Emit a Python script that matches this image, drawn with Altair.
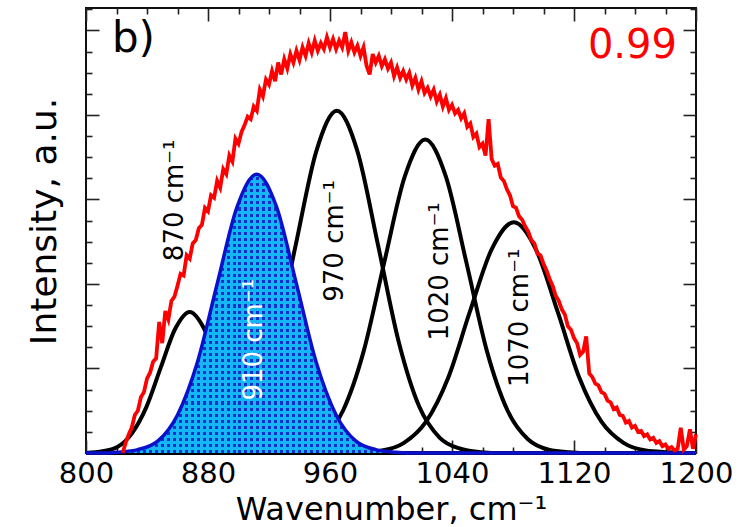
import altair as alt
import pandas as pd

# ---------------- data ----------------
# measured spectrum (red), wavenumber step 2 cm-1 from 824 to 1200
red_wn = list(range(824, 1201, 2))
red_int = [
    0.00, 0.12, 0.22, 0.30, 0.45, 0.50, 0.66, 0.72, 0.88, 0.95,
    1.08, 1.12, 1.55, 1.30, 1.68, 1.58, 1.80, 1.85, 1.98, 2.12,
    2.10, 2.34, 2.30, 2.48, 2.52, 2.66, 2.70, 2.90, 2.86, 3.05,
    3.02, 3.22, 3.14, 3.36, 3.30, 3.52, 3.45, 3.72, 3.66, 3.80,
    3.88, 3.98, 3.95, 4.10, 4.05, 4.30, 4.22, 4.42, 4.36, 4.52,
    4.40, 4.62, 4.48, 4.66, 4.55, 4.72, 4.62, 4.76, 4.65, 4.80,
    4.70, 4.85, 4.74, 4.88, 4.76, 4.85, 4.78, 4.92, 4.80, 4.90,
    4.78, 4.88, 4.80, 4.98, 4.76, 4.86, 4.74, 4.82, 4.70, 4.80,
    4.58, 4.48, 4.72, 4.62, 4.70, 4.58, 4.66, 4.55, 4.62, 4.46,
    4.56, 4.44, 4.52, 4.42, 4.50, 4.35, 4.44, 4.30, 4.40, 4.26,
    4.32, 4.22, 4.30, 4.16, 4.24, 4.10, 4.20, 4.06, 4.12, 4.02,
    4.06, 3.96, 4.02, 3.86, 3.90, 3.74, 3.78, 3.62, 3.66, 3.52,
    3.95, 3.48, 3.40, 3.42, 3.26, 3.22, 3.12, 3.05, 2.92, 2.90,
    2.80, 2.76, 2.68, 2.62, 2.52, 2.48, 2.36, 2.34, 2.24, 2.16,
    2.06, 1.98, 1.86, 1.80, 1.70, 1.64, 1.50, 1.46, 1.36, 1.30,
    1.16, 1.20, 1.38, 0.94, 0.90, 0.82, 0.80, 0.72, 0.70, 0.62,
    0.60, 0.52, 0.54, 0.45, 0.44, 0.36, 0.38, 0.30, 0.32, 0.25,
    0.26, 0.20, 0.22, 0.16, 0.18, 0.12, 0.14, 0.08, 0.10, 0.05,
    0.07, 0.03, 0.05, 0.30, 0.04, 0.08, 0.28, 0.05, 0.22,
]
assert len(red_wn) == len(red_int)

# fitted component bands
p870_wn = [800, 811, 820.5, 830, 839.5, 849, 858.5, 868, 877.5, 887, 896.5, 906, 915.5, 925, 934.5, 1200]
p870_v = [0, 0.02, 0.07, 0.23, 0.54, 1.01, 1.47, 1.67, 1.47, 1.01, 0.54, 0.23, 0.07, 0.02, 0, 0]

p910_wn = [800, 808, 821, 834, 847, 860, 873, 886, 899, 912, 925, 938, 951, 964, 977, 990, 1003, 1016, 1200]
p910_v = [0, 0, 0.01, 0.04, 0.14, 0.45, 1.07, 2.00, 2.91, 3.30, 2.91, 2.00, 1.07, 0.45, 0.14, 0.04, 0.01, 0, 0]

p970_wn = [800, 856.5, 870, 883.5, 897, 910.5, 924, 937.5, 951, 964.5, 978, 991.5, 1005, 1018.5, 1032, 1045.5, 1059, 1072.5, 1200]
p970_v = [0, 0, 0.01, 0.05, 0.18, 0.55, 1.32, 2.46, 3.57, 4.05, 3.57, 2.46, 1.32, 0.55, 0.18, 0.05, 0.01, 0, 0]

p1020_wn = [800, 914.5, 928, 941.5, 955, 968.5, 982, 995.5, 1009, 1022.5, 1036, 1049.5, 1063, 1076.5, 1090, 1103.5, 1117, 1130.5, 1200]
p1020_v = [0, 0, 0.01, 0.04, 0.16, 0.50, 1.20, 2.25, 3.27, 3.71, 3.27, 2.25, 1.20, 0.50, 0.16, 0.04, 0.01, 0, 0]

p1070_wn = [800, 965.5, 979.5, 994, 1008.5, 1023, 1037.5, 1051.5, 1066, 1080.5, 1095, 1109.5, 1123.5, 1138, 1152.5, 1167, 1181.5, 1195.5, 1200]
p1070_v = [0, 0, 0.01, 0.03, 0.12, 0.37, 0.89, 1.66, 2.41, 2.73, 2.41, 1.66, 0.89, 0.37, 0.12, 0.03, 0.01, 0, 0]

# band labels
label_text = ["870 cm⁻¹", "910 cm⁻¹", "970 cm⁻¹", "1020 cm⁻¹", "1070 cm⁻¹"]
label_wn = [858.4, 910.2, 963.6, 1032.0, 1084.6]
label_y = [2.99, 1.34, 2.51, 2.15, 1.60]
label_color = ["black", "white", "black", "black", "black"]

# axis ticks
x_major = [800, 880, 960, 1040, 1120, 1200]
x_minor = [820, 840, 860, 900, 920, 940, 980, 1000, 1020, 1060, 1080, 1100, 1140, 1160, 1180]
y_major = [0, 1, 2, 3, 4, 5]
y_minor = [0.25, 0.5, 0.75, 1.25, 1.5, 1.75, 2.25, 2.5, 2.75, 3.25, 3.5, 3.75, 4.25, 4.5, 4.75, 5.25]

# ---------------- tables ----------------
df_red = pd.DataFrame({"wn": red_wn, "v": red_int})
comp_frames = []
for name, w, v in [("870", p870_wn, p870_v), ("970", p970_wn, p970_v),
                   ("1020", p1020_wn, p1020_v), ("1070", p1070_wn, p1070_v)]:
    comp_frames.append(pd.DataFrame({"wn": w, "v": v, "peak": name}))
df_black = pd.concat(comp_frames, ignore_index=True)
df_blue = pd.DataFrame({"wn": p910_wn, "v": p910_v})
df_lab = pd.DataFrame({"wn": label_wn, "v": label_y, "t": label_text, "c": label_color})
df_b = pd.DataFrame({"wn": [817], "v": [4.75], "t": ["b)"]})
df_r2 = pd.DataFrame({"wn": [1187.5], "v": [4.67], "t": ["0.99"]})

W, H = 610, 445
FONT = "DejaVu Sans"
XS = alt.Scale(domain=[800, 1200], nice=False, zero=False)
YS = alt.Scale(domain=[0, 5.266], nice=False, zero=False)

CYAN = "#14b6f4"
DOT = "#1432c8"
CLEAR = "rgba(20,182,244,0)"


def stripes(n, horizontal):
    stops = []
    p = 1.0 / n
    for i in range(n):
        a = round(i * p, 5)
        m = round(i * p + p * 0.5, 5)
        b = round(min((i + 1) * p, 1.0), 5)
        stops += [alt.GradientStop(color=CYAN, offset=a),
                  alt.GradientStop(color=CYAN, offset=m),
                  alt.GradientStop(color=CLEAR, offset=m),
                  alt.GradientStop(color=CLEAR, offset=b)]
    if horizontal:
        return alt.LinearGradient(gradient="linear", stops=stops, x1=0, y1=0, x2=1, y2=0)
    return alt.LinearGradient(gradient="linear", stops=stops, x1=0, y1=0, x2=0, y2=1)


def tick_axis(orient, offset, values, size):
    return alt.Axis(orient=orient, offset=offset, values=values, tickSize=size,
                    tickWidth=1.6, tickColor="#222222", labels=False, domain=False,
                    grid=False)


x_label_axis = alt.Axis(orient="bottom", values=x_major, ticks=False, tickSize=0,
                        domain=False, grid=False, labelFontSize=29, labelFont=FONT,
                        labelColor="black", labelPadding=29, labelBaseline="alphabetic",
                        labelFlush=False, labelOverlap=False, format="d",
                        titleFontSize=32, titleFont=FONT, titleFontWeight="normal",
                        titleColor="black", titleBaseline="alphabetic", titleY=66)
y_title_axis = alt.Axis(orient="left", ticks=False, tickSize=0, labels=False,
                        domain=False, grid=False, titleFontSize=36, titleFont=FONT,
                        titleFontWeight="normal", titleColor="black", titleAngle=270,
                        titleBaseline="alphabetic", titleAlign="center",
                        titleX=-31, titleY=213)

black = alt.Chart(df_black).mark_line(color="black", strokeWidth=4, interpolate="monotone").encode(
    x=alt.X("wn:Q", scale=XS, axis=x_label_axis, title="Wavenumber, cm⁻¹"),
    y=alt.Y("v:Q", scale=YS, axis=y_title_axis, title="Intensity, a.u."),
    detail="peak:N",
)

blue_a = alt.Chart(df_blue).mark_area(color=DOT, interpolate="monotone").encode(
    x=alt.X("wn:Q", scale=XS, axis=tick_axis("top", -H, x_major, 13), title=None),
    y=alt.Y("v:Q", scale=YS, axis=tick_axis("right", -W, y_major, 13), title=None),
)
blue_b = alt.Chart(df_blue).mark_area(color=stripes(102, True), interpolate="monotone").encode(
    x=alt.X("wn:Q", scale=XS, axis=tick_axis("top", -H, x_minor, 6), title=None),
    y=alt.Y("v:Q", scale=YS, axis=tick_axis("right", -W, y_minor, 6), title=None),
)
blue_c = alt.Chart(df_blue).mark_area(color=stripes(46, False), interpolate="monotone").encode(
    x=alt.X("wn:Q", scale=XS, axis=tick_axis("bottom", -H, x_major, 13), title=None),
    y=alt.Y("v:Q", scale=YS, axis=tick_axis("left", -W, y_major, 13), title=None),
)
blue_line = alt.Chart(df_blue).mark_line(color="#0a10cc", strokeWidth=3.5, interpolate="monotone").encode(
    x=alt.X("wn:Q", scale=XS, axis=tick_axis("bottom", -H, x_minor, 6), title=None),
    y=alt.Y("v:Q", scale=YS, axis=tick_axis("left", -W, y_minor, 6), title=None),
)

red = alt.Chart(df_red).mark_line(color="#ff0000", strokeWidth=3.8).encode(
    x=alt.X("wn:Q", scale=XS, axis=None),
    y=alt.Y("v:Q", scale=YS, axis=None),
)

labels = alt.Chart(df_lab).mark_text(angle=270, align="center", baseline="middle",
                                     font=FONT, fontSize=26).encode(
    x=alt.X("wn:Q", scale=XS, axis=None),
    y=alt.Y("v:Q", scale=YS, axis=None),
    text="t:N",
    color=alt.Color("c:N", scale=None),
)
panel = alt.Chart(df_b).mark_text(align="left", baseline="alphabetic", font=FONT,
                                  fontSize=42, color="black").encode(
    x=alt.X("wn:Q", scale=XS, axis=None),
    y=alt.Y("v:Q", scale=YS, axis=None),
    text="t:N",
)
r2 = alt.Chart(df_r2).mark_text(align="right", baseline="alphabetic", font=FONT,
                                fontSize=40, color="#ff0000").encode(
    x=alt.X("wn:Q", scale=XS, axis=None),
    y=alt.Y("v:Q", scale=YS, axis=None),
    text="t:N",
)

chart = alt.layer(black, blue_a, blue_b, blue_c, blue_line, red, labels, panel, r2).resolve_axis(
    x="independent", y="independent"
).properties(
    width=W, height=H,
    padding={"left": 86, "top": 8, "right": 44, "bottom": 74},
    autosize=alt.AutoSizeParams(type="none"),
    background="white",
).configure_view(stroke="#111111", strokeWidth=2)

chart.save("out.html", embed_options={"renderer": "svg", "actions": False})
